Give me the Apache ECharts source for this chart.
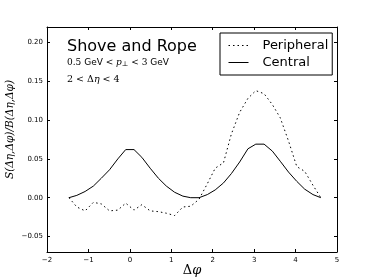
<!DOCTYPE html>
<html>
<head>
<meta charset="utf-8">
<script src="https://cdn.jsdelivr.net/npm/echarts@6/dist/echarts.min.js"></script>
<style>html,body{margin:0;padding:0;background:#fff;}#c{width:374px;height:280px;}</style>
</head>
<body>
<div id="c"></div>
<script>
// Δφ sample positions
var phi = [-1.47, -1.28, -1.08, -0.88, -0.69, -0.49, -0.29, -0.10, 0.10, 0.29, 0.49, 0.69, 0.88, 1.08, 1.28, 1.47,
           1.67, 1.87, 2.06, 2.26, 2.45, 2.65, 2.85, 3.04, 3.24, 3.44, 3.63, 3.83, 4.03, 4.22, 4.42, 4.61];
var peripheral = [0.000, -0.012, -0.017, -0.006, -0.008, -0.017, -0.016, -0.007, -0.016, -0.009, -0.017, -0.018, -0.020, -0.023, -0.012, -0.011,
                  -0.002, 0.018, 0.038, 0.045, 0.082, 0.110, 0.128, 0.138, 0.134, 0.120, 0.103, 0.073, 0.040, 0.034, 0.016, 0.000];
var central = [0.000, 0.003, 0.008, 0.015, 0.025, 0.036, 0.050, 0.062, 0.062, 0.052, 0.038, 0.025, 0.015, 0.007, 0.002, 0.000,
               0.000, 0.004, 0.010, 0.019, 0.031, 0.046, 0.063, 0.069, 0.069, 0.060, 0.047, 0.033, 0.021, 0.011, 0.004, 0.000];
var seriesNames = ['Peripheral', 'Central'];
var yTicks = [-0.05, 0.00, 0.05, 0.10, 0.15, 0.20];
var xTicks = [-2, -1, 0, 1, 2, 3, 4, 5];

function pairs(xs, ys) { return xs.map(function (x, i) { return [x, ys[i]]; }); }
function minusFmt(s) { return String(s).replace('-', '\u2212'); }

var chart = echarts.init(document.getElementById('c'), null, { renderer: 'canvas' });
var tickFont = { fontFamily: 'DejaVu Sans', fontSize: 7, color: '#000' };
var axisLineStyle = { show: true, onZero: false, lineStyle: { color: '#000', width: 1 } };
var tickStyle = { show: true, inside: true, length: 3, lineStyle: { color: '#000', width: 1 } };

chart.setOption({
  backgroundColor: '#fff',
  animation: false,
  grid: { left: 47, right: 37, top: 27, bottom: 28, containLabel: false, outerBoundsMode: 'none' },
  graphic: [
    { type: 'text', left: 67, top: 39, style: { text: 'Shove and Rope', font: '16px "DejaVu Sans"', fill: '#000' } },
    { type: 'text', left: 67, top: 58, style: {
        text: '{m|0.5} GeV {m|<} {i|p}{s|\u22a5} {m|<} {m|3} GeV',
        font: '9px "DejaVu Sans"', fill: '#000',
        rich: {
          m: { fontFamily: 'DejaVu Serif', fontSize: 9 },
          i: { fontFamily: 'DejaVu Serif', fontStyle: 'italic', fontSize: 9 },
          s: { fontFamily: 'DejaVu Serif', fontSize: 7, padding: [4, 0, 0, 0] }
        } } },
    { type: 'text', left: 67, top: 75, style: {
        text: '{m|2 < \u0394}{i|\u03b7}{m| < 4}',
        font: '9.5px "DejaVu Serif"', fill: '#000',
        rich: {
          m: { fontFamily: 'DejaVu Serif', fontSize: 9.5 },
          i: { fontFamily: 'DejaVu Serif', fontStyle: 'italic', fontSize: 9.5 }
        } } }
  ],
  legend: {
    data: seriesNames,
    orient: 'vertical',
    left: 220, top: 33,
    padding: [6, 4, 6, 8],
    itemWidth: 20, itemHeight: 14, itemGap: 4,
    borderColor: '#000', borderWidth: 1, borderRadius: 0,
    itemStyle: { color: 'rgba(0,0,0,0)', borderColor: 'rgba(0,0,0,0)', borderWidth: 0 },
    lineStyle: { width: 1, color: '#000' },
    textStyle: { fontFamily: 'DejaVu Sans', fontSize: 13, color: '#000', padding: [0, 0, 0, 9] }
  },
  xAxis: [{
    type: 'value', min: xTicks[0], max: xTicks[xTicks.length - 1], interval: 1,
    name: '{d|\u0394}{p|\u03c6}', nameLocation: 'middle', nameGap: 12, nameMoveOverlap: false,
    nameTextStyle: { rich: { d: { fontFamily: 'DejaVu Serif', fontSize: 13, color: '#000' }, p: { fontFamily: 'DejaVu Serif', fontStyle: 'italic', fontSize: 13, color: '#000' } } },
    axisLine: axisLineStyle, axisTick: tickStyle, splitLine: { show: false },
    axisLabel: Object.assign({ margin: 5, formatter: function (v) { return minusFmt(v); } }, tickFont)
  }, {
    type: 'value', position: 'top', min: xTicks[0], max: xTicks[xTicks.length - 1], interval: 1,
    axisLine: axisLineStyle, axisTick: tickStyle, axisLabel: { show: false }, splitLine: { show: false }
  }],
  yAxis: [{
    type: 'value', min: -0.07, max: 0.22,
    name: 'S(\u0394\u03b7,\u0394\u03c6)/B(\u0394\u03b7,\u0394\u03c6)', nameLocation: 'middle', nameGap: 31, nameRotate: 90, nameMoveOverlap: false,
    nameTextStyle: { fontFamily: 'DejaVu Serif', fontStyle: 'italic', fontSize: 10.5, color: '#000', padding: [0, 0, 0, 20] },
    axisLine: axisLineStyle,
    axisTick: Object.assign({ customValues: yTicks }, tickStyle),
    splitLine: { show: false },
    axisLabel: Object.assign({ margin: 4, customValues: yTicks, formatter: function (v) { return minusFmt(v.toFixed(2)); } }, tickFont)
  }, {
    type: 'value', position: 'right', min: -0.07, max: 0.22,
    axisLine: axisLineStyle,
    axisTick: Object.assign({ customValues: yTicks }, tickStyle),
    axisLabel: { show: false }, splitLine: { show: false }
  }],
  series: [{
    name: seriesNames[0], type: 'line', data: pairs(phi, peripheral),
    symbol: 'none', showSymbol: false, smooth: false,
    lineStyle: { color: '#000', width: 1, type: [1.5, 3] }, itemStyle: { color: '#000' }
  }, {
    name: seriesNames[1], type: 'line', data: pairs(phi, central),
    symbol: 'none', showSymbol: false, smooth: false,
    lineStyle: { color: '#000', width: 1, type: 'solid' }, itemStyle: { color: '#000' }
  }]
});
</script>
</body>
</html>
